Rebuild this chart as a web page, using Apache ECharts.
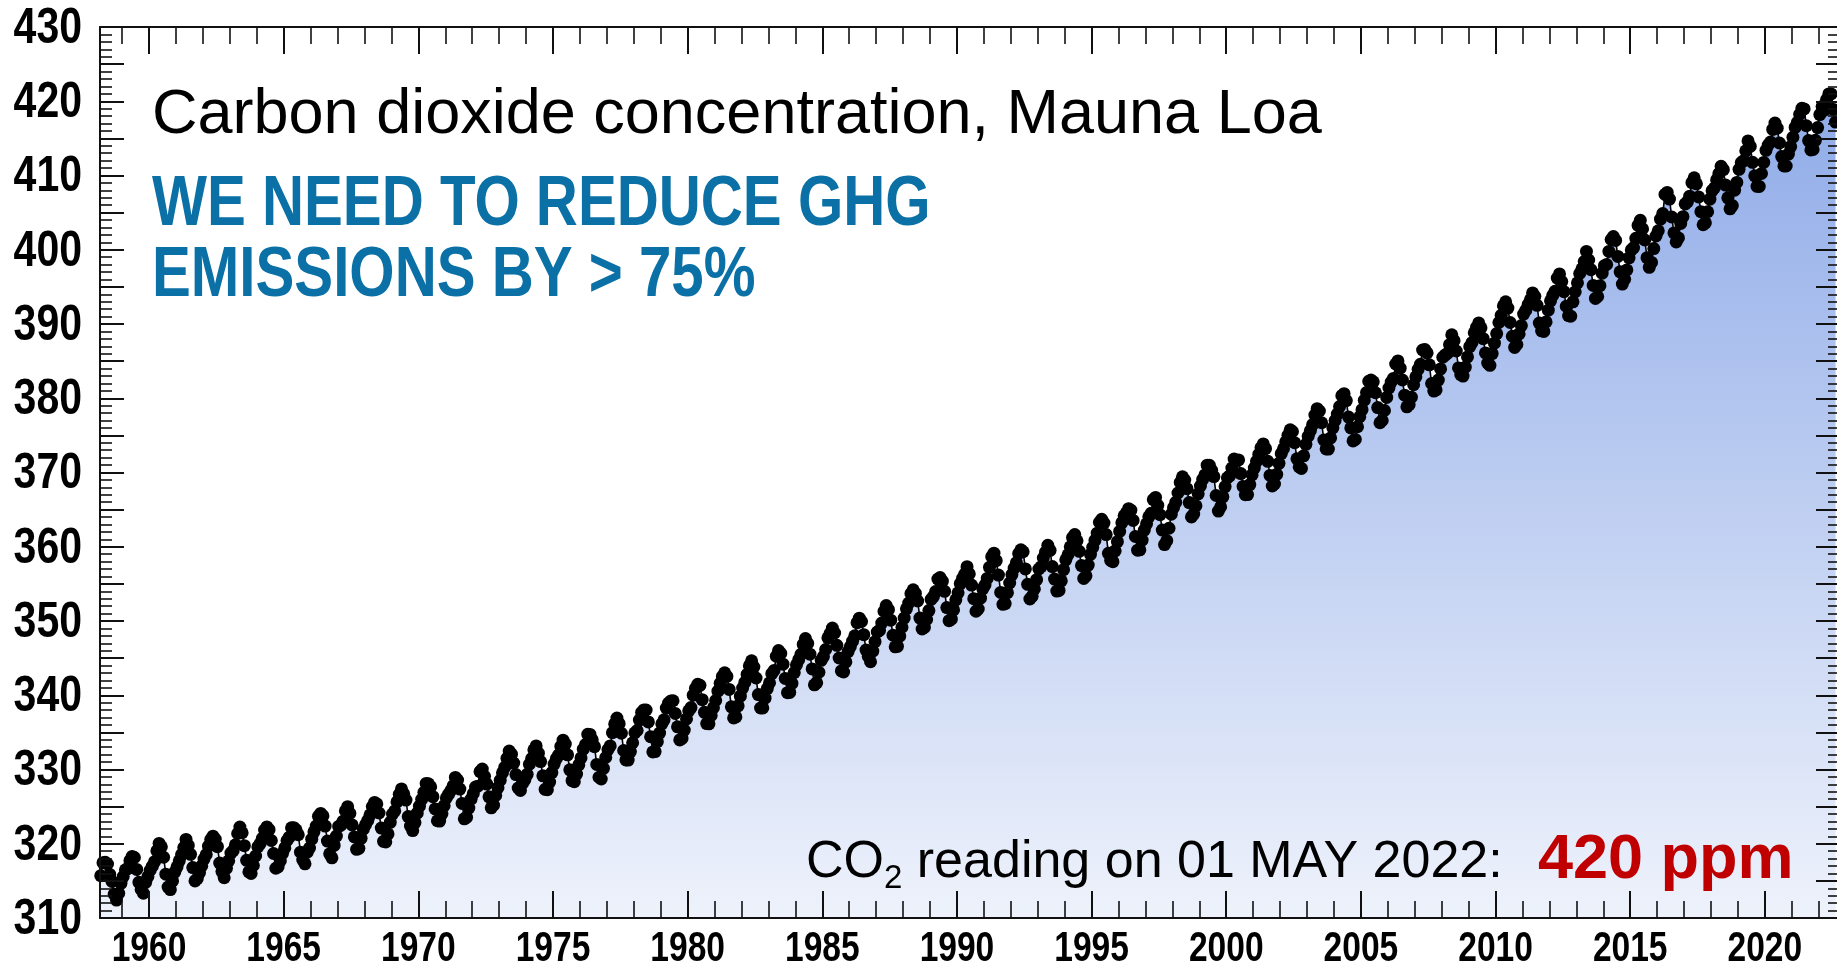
<!DOCTYPE html>
<html><head><meta charset="utf-8">
<script src="https://cdn.jsdelivr.net/npm/echarts@6/dist/echarts.min.js"></script>
<style>html,body{margin:0;padding:0;background:#fff;overflow:hidden}#c{width:1837px;height:971px}</style>
</head><body><div id="c"></div>
<script>
// Monthly mean CO2 at Mauna Loa (ppm), first value = March 1958
const startYear = 1958;
const startMonth = 3;
const co2_1958_1969 = [
315.70,317.45,317.51,317.27,315.87,314.93,313.21,312.42,313.33,314.67,
315.58,316.49,316.65,317.72,318.29,318.15,316.54,314.80,313.84,313.33,314.81,315.58,
316.43,316.98,317.58,319.03,320.04,319.59,318.18,315.90,314.17,313.83,315.00,316.19,
316.89,317.70,318.54,319.48,320.58,319.77,318.57,316.79,314.99,315.31,316.10,317.01,
317.94,318.55,319.68,320.57,321.02,320.62,319.61,317.40,316.25,315.42,316.69,317.70,
318.74,319.07,319.86,321.38,322.25,321.48,319.74,317.77,316.21,315.99,317.07,318.35,
319.57,320.01,320.74,321.84,322.26,321.89,320.44,318.69,316.70,316.87,317.68,318.71,
319.44,320.44,320.89,322.14,322.17,321.87,321.21,318.87,317.81,317.30,318.87,319.42,
320.62,321.60,322.39,323.70,324.08,323.75,322.38,320.36,318.64,318.10,319.78,321.03,
322.33,322.50,323.04,324.42,325.00,324.09,322.54,320.92,319.25,319.39,320.73,321.96,
322.57,323.15,323.89,325.02,325.57,325.36,324.14,322.11,320.33,320.25,321.32,322.89,
324.00,324.42,325.63,326.66,327.38,326.71,325.88,323.66,322.38,321.78,322.85,324.12];
const co2_1970s = [
325.06,325.98,326.93,328.13,328.08,327.67,326.34,324.69,323.10,323.06,324.01,325.13,
326.17,326.68,327.17,327.79,328.93,328.57,327.36,325.43,323.36,323.56,324.80,326.01,
326.77,327.63,327.75,329.72,330.07,329.09,328.04,326.32,324.84,325.20,326.50,327.55,
328.55,329.56,330.30,331.50,332.48,332.07,330.87,329.31,327.51,327.18,328.16,328.64,
329.35,330.71,331.48,332.65,333.18,332.20,331.07,329.15,327.33,327.28,328.31,329.58,
330.73,331.46,331.94,333.11,333.95,333.42,331.97,329.95,328.50,328.36,329.38,330.62,
331.56,332.74,333.36,334.74,334.72,333.98,333.08,330.68,328.96,328.72,330.16,331.62,
332.68,333.17,334.96,336.14,336.93,336.17,334.88,332.56,331.29,331.27,332.41,333.60,
334.95,335.25,336.66,337.69,338.03,338.01,336.41,334.41,332.37,332.41,333.75,334.90,
336.14,336.69,338.27,338.96,339.21,339.26,337.54,335.75,333.98,334.19,335.31,336.81];
const co2_1980s = [
337.90,338.34,340.01,340.93,341.48,341.33,339.40,337.70,336.19,336.15,337.27,338.32,
339.29,340.55,341.61,342.53,343.03,342.54,340.78,338.44,336.95,337.08,338.58,339.88,
340.96,341.73,342.81,343.97,344.63,343.79,342.32,340.09,338.28,338.29,339.60,340.90,
341.68,342.90,343.33,345.25,346.03,345.63,344.19,342.27,340.35,340.38,341.59,343.05,
344.10,344.79,345.52,346.84,347.63,346.98,345.53,343.55,341.40,341.67,343.10,344.70,
345.21,346.16,347.74,348.34,349.06,348.38,346.72,345.02,343.27,343.13,344.49,345.88,
346.56,347.28,348.01,349.77,350.38,349.93,348.16,346.08,345.22,344.51,345.93,347.22,
348.52,348.73,349.73,351.31,352.09,351.53,350.11,348.08,346.52,346.59,347.96,349.16,
350.39,351.64,352.41,353.69,354.21,353.72,352.69,350.40,348.92,349.13,350.20,351.41,
352.91,353.27,353.96,355.64,355.86,355.37,353.99,351.81,350.05,350.25,351.49,352.85];
const co2_1990s = [
353.80,355.04,355.73,356.32,357.32,356.34,354.84,353.01,351.31,351.62,353.07,354.33,
354.84,355.73,357.23,358.66,359.13,358.13,356.19,353.85,352.25,352.35,353.81,355.12,
356.25,357.11,357.86,359.09,359.59,359.33,357.01,354.94,352.96,353.32,354.32,355.57,
357.00,357.31,358.47,359.27,360.19,359.52,357.33,355.64,354.03,354.12,355.41,356.91,
358.24,358.92,359.99,361.23,361.65,360.81,359.38,357.46,355.73,356.08,357.53,358.98,
359.92,360.86,361.83,363.30,363.69,363.19,361.64,359.12,358.17,357.99,359.45,360.68,
362.07,363.24,364.17,364.57,365.13,364.92,363.55,361.38,359.54,359.58,360.89,362.24,
363.09,364.03,364.51,366.35,366.64,365.59,364.31,362.25,360.29,360.82,362.49,364.38,
365.26,365.98,367.24,368.66,369.42,368.99,367.82,365.95,364.02,364.40,365.52,367.13,
368.18,369.07,369.68,370.99,370.96,370.30,369.45,366.90,364.81,365.37,366.72,368.10];
const co2_2000s = [
369.29,369.54,370.60,371.82,371.58,371.70,369.86,368.13,367.00,367.03,368.37,369.67,
370.59,371.51,372.43,373.37,373.85,373.21,371.51,369.61,368.18,368.45,369.76,371.24,
372.53,373.20,374.12,375.02,375.76,375.52,374.01,371.85,370.75,370.55,372.25,373.79,
374.88,375.64,376.45,377.73,378.60,378.28,376.70,374.38,373.17,373.15,374.66,375.99,
377.00,377.87,378.88,380.35,380.62,379.69,377.47,376.01,374.25,374.46,376.16,377.51,
378.46,379.73,380.77,382.29,382.45,382.21,380.74,378.74,376.70,377.00,378.35,380.11,
381.38,382.19,382.67,384.61,385.03,384.05,382.46,380.41,378.85,379.13,380.15,381.82,
382.89,383.90,384.58,386.50,386.56,386.10,384.50,381.99,380.96,381.12,382.45,383.95,
385.52,385.82,386.03,387.21,388.54,387.76,386.36,384.09,383.18,382.99,384.19,385.56,
386.94,387.48,388.82,389.55,390.14,389.48,388.03,386.11,384.74,384.43,386.02,387.42];
const co2_2010s = [
388.71,390.20,391.17,392.46,393.00,392.15,390.20,388.35,386.85,387.24,388.67,389.79,
391.33,391.86,392.60,393.25,394.19,393.74,392.51,390.13,389.08,389.00,390.28,391.86,
393.12,393.86,394.40,396.18,396.74,395.71,394.36,392.39,391.11,391.05,392.98,394.34,
395.55,396.80,397.43,398.41,399.78,398.61,397.32,395.20,393.45,393.70,395.16,396.84,
397.85,398.01,399.77,401.38,401.78,401.25,399.10,397.03,395.38,396.03,397.28,398.91,
399.98,400.28,401.54,403.28,403.96,402.80,401.31,398.93,397.63,398.29,400.16,401.85,
402.56,404.12,404.87,407.45,407.72,406.83,404.41,402.27,401.05,401.59,403.55,404.45,
406.17,406.46,407.22,409.04,409.69,408.88,407.12,405.13,403.37,403.63,405.12,406.81,
407.96,408.32,409.41,410.24,411.24,410.79,408.71,406.99,405.51,405.95,408.02,409.07,
410.83,411.75,411.97,413.32,414.66,413.92,411.77,409.95,408.54,408.53,410.27,411.76];
const co2_2020s = [
413.39,414.11,414.51,416.21,417.07,416.38,414.38,412.55,411.29,411.28,412.89,413.89,
415.15,416.47,417.16,418.24,419.05,418.97,416.70,414.70,413.44,413.50,414.74,416.45,
418.20,419.28,418.81,420.23,420.99,420.99,418.90,417.19];

// Axis ticks / labels
const majorYears = [1960,1965,1970,1975,1980,1985,1990,1995,2000,2005,2010,2015,2020];
const minorYears = [1959,1960,1961,1962,1963,1964,1965,1966,1967,1968,1969,1970,1971,1972,1973,1974,1975,1976,1977,1978,1979,1980,1981,1982,1983,1984,1985,1986,1987,1988,1989,1990,1991,1992,1993,1994,1995,1996,1997,1998,1999,2000,2001,2002,2003,2004,2005,2006,2007,2008,2009,2010,2011,2012,2013,2014,2015,2016,2017,2018,2019,2020,2021,2022];
const ppmLabels = [310,320,330,340,350,360,370,380,390,400,410,420,430];

const monthly = [].concat(co2_1958_1969, co2_1970s, co2_1980s, co2_1990s, co2_2000s, co2_2010s, co2_2020s);
const points = monthly.map(function (v, i) {
  const m = startMonth - 1 + i;
  const yr = startYear + Math.floor(m / 12);
  const mo = m % 12;
  return [yr + (mo + 0.5) / 12, v];
});

const SANS = "'Liberation Sans', Arial, sans-serif";
const X_MIN = 1958.18, X_MAX = 2022.79;
const AX = '#111';

function xAxisDef(pos, ticks, len, w, showLine) {
  return {
    type: 'value', position: pos, min: X_MIN, max: X_MAX, z: 5,
    axisLine: { show: showLine, onZero: false, lineStyle: { color: AX, width: 2 } },
    axisTick: { show: true, inside: true, length: len, customValues: ticks, lineStyle: { color: AX, width: w } },
    axisLabel: { show: false },
    splitLine: { show: false }
  };
}
function yAxisDef(pos) {
  return {
    type: 'value', position: pos, min: 310, max: 430, interval: 5, z: 5,
    axisLine: { show: true, onZero: false, lineStyle: { color: AX, width: 2 } },
    axisTick: { show: true, inside: true, length: 24, lineStyle: { color: AX, width: 2 } },
    minorTick: { show: true, splitNumber: 5, length: 12, lineStyle: { color: AX, width: 1.6 } },
    axisLabel: { show: false },
    splitLine: { show: false }, minorSplitLine: { show: false }
  };
}

const chart = echarts.init(document.getElementById('c'), null, { renderer: 'canvas' });
chart.setOption({
  animation: false,
  backgroundColor: '#ffffff',
  grid: { left: 100, top: 27, width: 1740, height: 891, containLabel: false, outerBoundsMode: 'none' },
  xAxis: [
    xAxisDef('bottom', majorYears, 27, 2, true),
    xAxisDef('bottom', minorYears, 17, 1.6, false),
    xAxisDef('top', majorYears, 27, 2, true),
    xAxisDef('top', minorYears, 17, 1.6, false)
  ],
  yAxis: [yAxisDef('left'), yAxisDef('right')],
  series: [{
    type: 'line', data: points, xAxisIndex: 0, yAxisIndex: 0, z: 2,
    symbol: 'circle', symbolSize: 13, showSymbol: true, silent: true,
    itemStyle: { color: '#000', borderWidth: 0 },
    lineStyle: { color: '#000', width: 1.6 },
    areaStyle: {
      origin: 'start', opacity: 1,
      color: new echarts.graphic.LinearGradient(0, 0, 0, 1, [
        { offset: 0, color: '#8fabe8' },
        { offset: 1, color: '#eef2fb' }
      ])
    },
    emphasis: { disabled: true }
  }]
});

// Tick labels in a condensed bold face, placed through the axes' own scales
const graphics = [];
ppmLabels.forEach(function (v) {
  const p = chart.convertToPixel({ xAxisIndex: 0, yAxisIndex: 0 }, [X_MIN, v]);
  graphics.push({ type: 'text', x: p[0] - 18, y: p[1] + 2, scaleX: 0.82, z: 10, silent: true,
    style: { text: String(v), fontSize: 50, fontWeight: 'bold', fontFamily: SANS, fill: '#000', align: 'right', verticalAlign: 'middle' } });
});
majorYears.forEach(function (v) {
  const p = chart.convertToPixel({ xAxisIndex: 0, yAxisIndex: 0 }, [v, 310]);
  graphics.push({ type: 'text', x: p[0], y: p[1] + 31, scaleX: 0.78, z: 10, silent: true,
    style: { text: String(v), fontSize: 43, fontWeight: 'bold', fontFamily: SANS, fill: '#000', align: 'center', verticalAlign: 'middle' } });
});
graphics.push(
  { type: 'text', x: 152, y: 116, z: 10, silent: true,
    style: { text: 'Carbon dioxide concentration, Mauna Loa', fontSize: 63, fontFamily: SANS, fill: '#000', align: 'left', verticalAlign: 'middle' } },
  { type: 'text', x: 152, y: 205, scaleX: 0.82, z: 10, silent: true,
    style: { text: 'WE NEED TO REDUCE GHG', fontSize: 71, fontWeight: 'bold', fontFamily: SANS, fill: '#0a70a6', align: 'left', verticalAlign: 'middle' } },
  { type: 'text', x: 152, y: 276, scaleX: 0.82, z: 10, silent: true,
    style: { text: 'EMISSIONS BY > 75%', fontSize: 71, fontWeight: 'bold', fontFamily: SANS, fill: '#0a70a6', align: 'left', verticalAlign: 'middle' } },
  { type: 'text', x: 806, y: 863, z: 10, silent: true,
    style: {
      text: '{a|CO}{b|2}{a| reading on 01 MAY 2022:}', align: 'left', verticalAlign: 'middle',
      rich: {
        a: { fontSize: 52, fontFamily: SANS, fill: '#000', lineHeight: 64, verticalAlign: 'middle' },
        b: { fontSize: 33, fontFamily: SANS, fill: '#000', verticalAlign: 'bottom' }
      }
    } },
  { type: 'text', x: 1538, y: 861, z: 10, silent: true,
    style: { text: '420 ppm', fontSize: 63, fontWeight: 'bold', fontFamily: SANS, fill: '#c00000', align: 'left', verticalAlign: 'middle' } }
);
chart.setOption({ graphic: graphics });
</script>
</body></html>
